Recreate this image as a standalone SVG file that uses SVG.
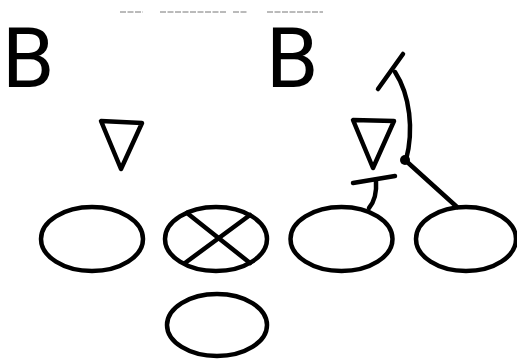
<svg xmlns="http://www.w3.org/2000/svg" width="517" height="360" viewBox="0 0 517 360">
<style>
.s{fill:none;stroke:#000;stroke-width:4.5;stroke-linecap:round;stroke-linejoin:round}
.t{font-family:Roboto,"Liberation Sans",Arial,sans-serif;font-weight:400;font-size:84px;fill:#000}
.n{fill:none;stroke:#777;stroke-width:1;stroke-dasharray:6 1.5}
</style>
<rect width="517" height="360" fill="#fff"/>
<g id="scan-noise">
<path class="n" d="M120,12H143M160,12H227M233,12H247M267,12H323"/>
</g>
<g id="back-left"><text class="t" x="2" y="87">B</text></g>
<g id="back-right"><text class="t" x="266" y="87">B</text></g>
<g id="def-left"><polygon class="s" points="101,121 142,123 121,169"/></g>
<g id="def-right"><polygon class="s" points="353,120 394,121 373,168"/></g>
<g id="lineman-1"><ellipse class="s" cx="92" cy="239" rx="51" ry="32"/></g>
<g id="center">
<ellipse class="s" cx="216" cy="239" rx="51" ry="32"/>
<path class="s" d="M187,213L250,263M250,215L185,263"/>
</g>
<g id="lineman-3"><ellipse class="s" cx="341.5" cy="239" rx="51" ry="32"/></g>
<g id="lineman-4"><ellipse class="s" cx="466" cy="239" rx="50" ry="32"/></g>
<g id="quarterback"><ellipse class="s" cx="217" cy="325" rx="50" ry="31"/></g>
<g id="connectors">
<path class="s" d="M378,89L403,54"/>
<path class="s" d="M395,72C410,95 414,130 406,160"/>
<circle cx="405" cy="160" r="5" fill="#000"/>
<path class="s" d="M405,160L457,207"/>
<path class="s" d="M353,183L395,176"/>
<path class="s" d="M376,181C377,195 374,202 369,208"/>
</g>
</svg>
